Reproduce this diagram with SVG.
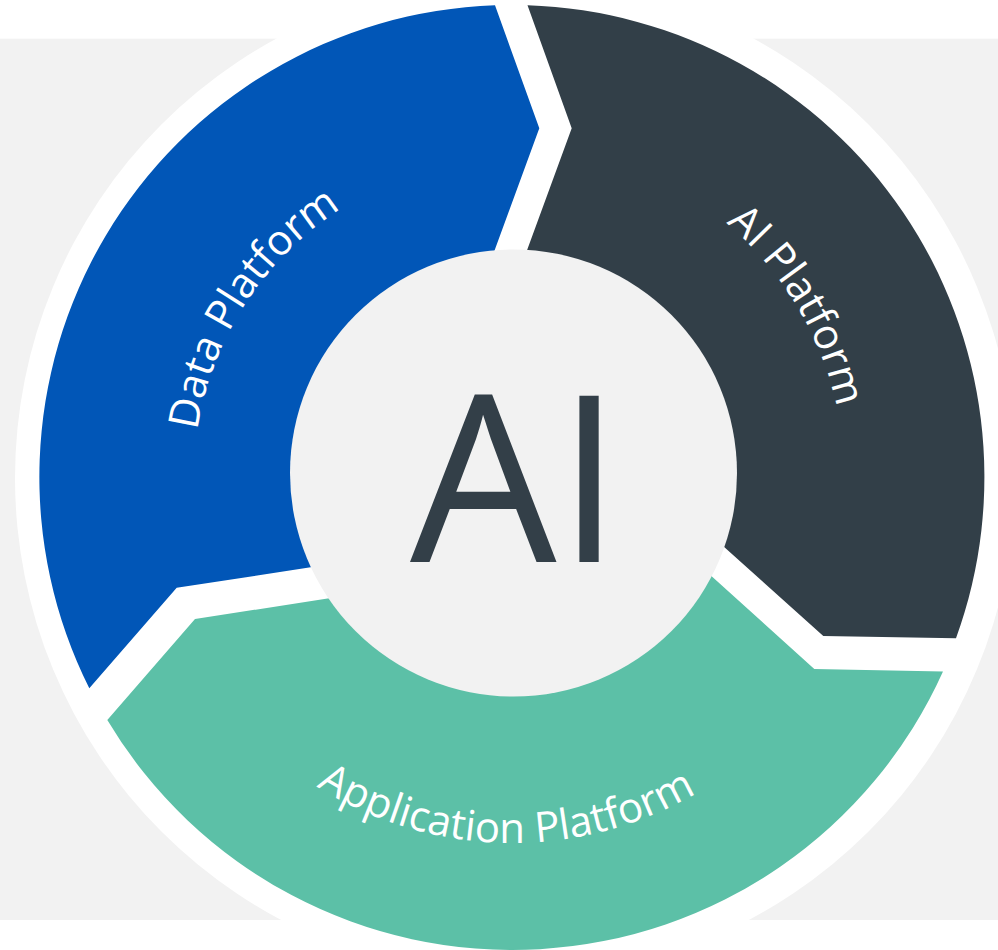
<svg xmlns="http://www.w3.org/2000/svg" width="998" height="950" viewBox="0 0 998 950">
  <style>
    .bg { fill: #f2f2f2; }
    .ring { fill: #ffffff; }
    .hub { fill: #f2f2f2; }
    .data { fill: #0156b7; }
    .aip { fill: #323f48; }
    .app { fill: #5cc0a7; }
    .lbl { fill: #ffffff; font-family: "Open Sans", "Noto Sans", "Liberation Sans", sans-serif; font-size: 42px; }
    .big { fill: #333f48; font-family: "Open Sans", "Noto Sans", "Liberation Sans", sans-serif; font-size: 232px; }
  </style>
  <defs>
    <path id="arc-data" d="M 228.7,621.4 A 318 318 0 0 1 528.6,159.4"/>
    <path id="arc-ai" d="M 506.2,145 A 332 332 0 0 1 802.4,638"/>
    <path id="arc-app" d="M 191.9,654.4 A 366 366 0 0 0 825.7,665.5"/>
  </defs>
  <rect x="0" y="0" width="998" height="950" fill="#ffffff"/>
  <rect class="bg" x="0" y="38.7" width="998" height="881.3"/>
  <circle class="ring" cx="515" cy="478" r="500"/>

  <g id="data-platform">
    <path class="data" d="M 89.3,688.3 A 472 472 0 0 1 495,5.3 L 539.3,128.3 L 487.4,270 L 512,477 L 325.2,565.1 L 176.7,587.7 Z"/>
    <text class="lbl"><textPath href="#arc-data" startOffset="50%" text-anchor="middle">Data Platform</textPath></text>
  </g>

  <g id="ai-platform">
    <path class="aip" d="M 527.5,5.3 A 472 472 0 0 1 956,638.3 L 823.3,636 L 710.2,534.4 L 512,477 L 519.8,270 L 571.7,128.3 Z"/>
    <text class="lbl"><textPath href="#arc-ai" startOffset="50%" text-anchor="middle">AI Platform</textPath></text>
  </g>

  <g id="application-platform">
    <path class="app" d="M 943,671.6 A 472 472 0 0 1 107.3,720 L 195,619 L 343.5,596.1 L 512,477 L 700,565.8 L 814.3,669 Z"/>
    <text class="lbl"><textPath href="#arc-app" startOffset="50%" text-anchor="middle">Application Platform</textPath></text>
  </g>

  <g id="ai-core">
    <circle class="hub" cx="513.5" cy="473" r="223.5"/>
    <text class="big" x="410" y="562">AI</text>
  </g>
</svg>
